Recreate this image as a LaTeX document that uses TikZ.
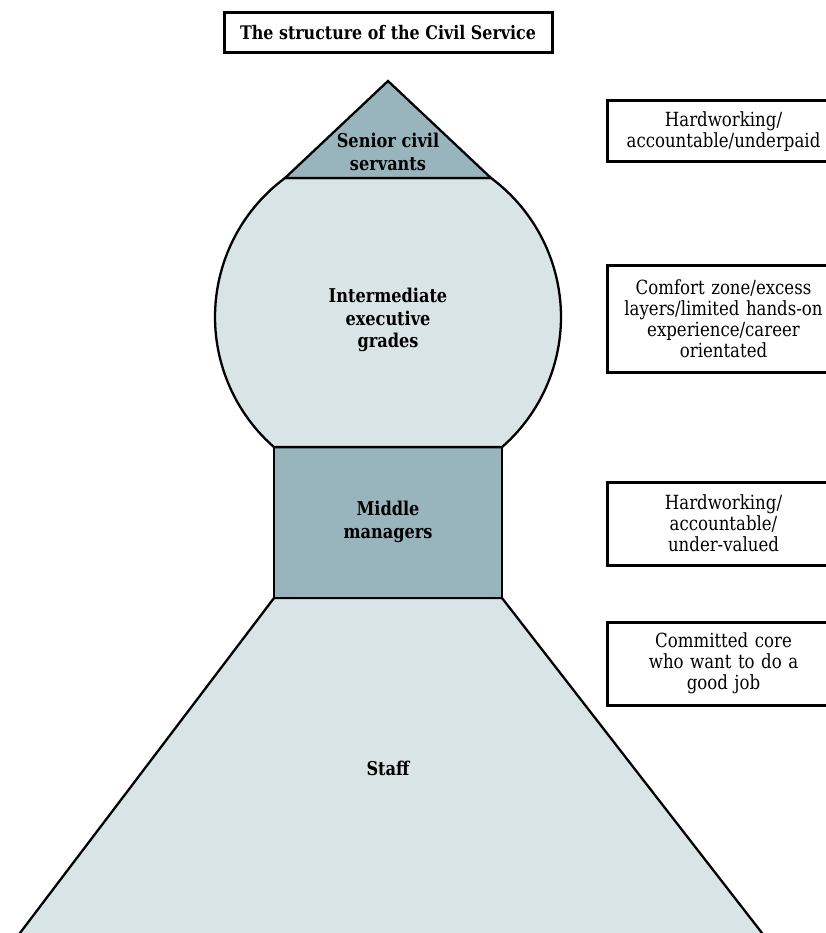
\documentclass[tikz,border=0pt]{standalone}
\usepackage{fontspec}
\setmainfont{DejaVu Serif}[FakeStretch=0.85]
\usetikzlibrary{calc}
\definecolor{tierdark}{RGB}{152,180,189}
\definecolor{tierlight}{RGB}{217,228,230}
\begin{document}
\begin{tikzpicture}[x=1pt,y=1pt,
  tier/.style={draw=black, line width=2.3pt, line join=miter},
  tierlabel/.style={font=\fontsize{19}{22.5}\selectfont\bfseries, align=center, inner sep=0pt},
  notebox/.style={draw=black, line width=3pt, minimum width=233pt, text width=225pt,
    align=center, font=\fontsize{19.5}{21}\selectfont, inner sep=0pt},
  titlebox/.style={draw=black, line width=3pt, minimum width=328pt, minimum height=40pt,
    font=\fontsize{18.7}{21}\selectfont\bfseries, inner sep=0pt},
]
\useasboundingbox (0,0) rectangle (826,-933);
\clip (0,0) rectangle (826,-933);

% centre and radius of the round "bulb"
\coordinate (c) at (388,-317);
\def\bulbr{173}
\coordinate (ctl) at ($(c)+(126.53:\bulbr)$);
\coordinate (ctr) at ($(c)+(53.47:\bulbr)$);
\coordinate (cbl) at ($(c)+(228.78:\bulbr)$);
\coordinate (cbr) at ($(c)+(-48.78:\bulbr)$);
\coordinate (apex) at (388,-81);
\coordinate (rbl) at (cbl |- 0,-598);
\coordinate (rbr) at (cbr |- 0,-598);

% staff: wide base running off the page
\path[tier, fill=tierlight] (rbl) -- (rbr) -- (775.2,-950) -- (7.1,-950) -- cycle;
% middle managers
\path[tier, fill=tierdark] (cbl) rectangle (rbr);
% intermediate grades
\path[tier, fill=tierlight] (ctl) arc[start angle=126.53, end angle=228.78, radius=\bulbr]
  -- (cbr) arc[start angle=-48.78, end angle=53.47, radius=\bulbr] -- cycle;
% senior civil servants
\path[tier, fill=tierdark] (apex) -- (ctr) -- (ctl) -- cycle;

\node[titlebox] (title) at (388,-33) {The structure of the Civil Service};

\node[tierlabel] (senior) at (388,-152) {Senior civil\\servants};
\node[tierlabel] (inter) at (388,-320) {Intermediate\\executive\\grades};
\node[tierlabel] (middle) at (388,-522) {Middle\\managers};
\node[tierlabel] (staff) at (388,-768) {Staff};

\node[notebox, minimum height=61pt] (n1) at (723.5,-131.5)
  {Hardworking/\\accountable/underpaid};
\node[notebox, minimum height=107pt] (n2) at (723.5,-318.5)
  {Comfort zone/excess\\layers/limited hands-on\\experience/career\\orientated};
\node[notebox, minimum height=83pt] (n3) at (723.5,-523.5)
  {Hardworking/\\accountable/\\under-valued};
\node[notebox, minimum height=83pt] (n4) at (723.5,-663.5)
  {Committed core\\who want to do a\\good job};
\end{tikzpicture}
\end{document}
